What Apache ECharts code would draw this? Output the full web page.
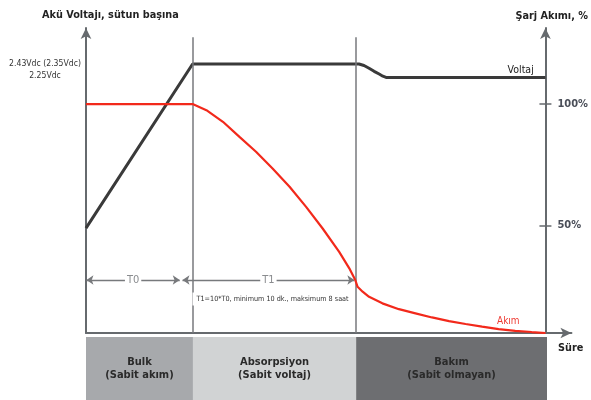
<!DOCTYPE html>
<html><head><meta charset="utf-8">
<script src="https://cdn.jsdelivr.net/npm/echarts@6/dist/echarts.min.js"></script>
<style>html,body{margin:0;padding:0;background:#fff}#c{width:591px;height:400px}</style>
</head><body><div id="c"></div>
<script>
// ---- data ----
const voltTime   = [0, 23.2, 58.6, 59.4, 60.5, 61.6, 62.7, 63.8, 64.6, 65.3, 100];
const voltValues = [34.4, 88.2, 88.2, 88.2, 87.7, 86.8, 85.8, 84.9, 84.2, 83.8, 83.8];
const currTime   = [0, 23.2, 26.2, 29.8, 33.4, 37.0, 40.6, 44.3, 47.9, 51.5, 55.1, 57.3, 58.6,
                    59.1, 60.2, 61.6, 64.5, 68.1, 71.7, 75.3, 79.0, 82.6, 86.2, 89.8, 93.4, 97.0, 100];
const currValues = [100, 100, 97.5, 92.7, 86.5, 80.4, 73.5, 66.0, 57.7, 48.8, 39.2, 32.4, 27.6,
                    24.8, 22.8, 20.7, 18.0, 15.6, 13.9, 12.2, 10.7, 9.5, 8.4, 7.4, 6.7, 6.2, 5.8];
const phaseNames  = ['Bulk\n(Sabit akım)', 'Absorpsiyon\n(Sabit voltaj)', 'Bakım\n(Sabit olmayan)'];
const phaseBounds = [0, 23.2, 58.6, 100];
const voltTickValues = [88.2, 84.3];
const voltTickLabels = ['2.43Vdc (2.35Vdc)', '2.25Vdc'];
const currTickValues = [50, 100];
const currTickLabels = ['50%', '100%'];
const t0Span = [0.1, 20.4];
const t1Span = [21.0, 58.4];
const spanLevel = 27.6;

// ---- style ----
const FONT = '"Liberation Sans Narrow","DejaVu Sans Condensed","Roboto Condensed",Roboto,sans-serif';
const AXIS = '#666a6e';
const bandColors = ['#a7a9ac', '#d1d3d4', '#6d6e71'];

const chart = echarts.init(document.getElementById('c'), null, {renderer: 'canvas'});
const voltData = voltTime.map((t, i) => [t, voltValues[i]]);
const currData = currTime.map((t, i) => [t, currValues[i]]);

const phaseAreas = phaseNames.map((n, i) => [
  {xAxis: phaseBounds[i], yAxis: 0, name: n, itemStyle: {color: bandColors[i], opacity: 1}},
  {xAxis: phaseBounds[i + 1], yAxis: 1}
]);

const labelPoint = (coord, text, style) => ({
  coord: coord, value: text, symbol: 'rect', symbolSize: 1,
  itemStyle: {color: 'rgba(0,0,0,0)'},
  label: Object.assign({show: true, position: 'inside', formatter: text, fontFamily: FONT}, style)
});

const titleStyle = {fontSize: 10.8, fontWeight: 'bold', color: '#222', fontFamily: FONT};

chart.setOption({
  animation: false,
  backgroundColor: '#fff',
  textStyle: {fontFamily: FONT},
  title: [
    {text: 'Akü Voltajı, sütun başına', left: 42, top: 10, padding: 0, textStyle: titleStyle},
    {text: 'Şarj Akımı, %', right: 3, top: 11, padding: 0, textStyle: titleStyle},
    {text: 'Süre', left: 558, top: 343, padding: 0, textStyle: titleStyle}
  ],
  grid: [
    {left: 86, right: 18, top: 28, bottom: 67},
    {left: 86, right: 44, top: 337, bottom: 0}
  ],
  xAxis: [
    {type: 'value', gridIndex: 0, min: 0, max: 105.64,
     axisLine: {show: true, symbol: ['none', 'arrow'], symbolSize: [8, 11], lineStyle: {color: AXIS, width: 2}},
     axisTick: {show: false}, axisLabel: {show: false}, splitLine: {show: false}},
    {type: 'value', gridIndex: 1, min: 0, max: 100, show: false}
  ],
  yAxis: [
    {type: 'value', gridIndex: 0, min: 0, max: 100, position: 'left',
     axisLine: {show: true, symbol: ['none', 'arrow'], symbolSize: [8, 11], lineStyle: {color: AXIS, width: 2}},
     axisTick: {show: false}, splitLine: {show: false},
     axisLabel: {show: true, customValues: voltTickValues, align: 'center', margin: 41,
       fontSize: 8.6, color: '#333', fontFamily: FONT,
       formatter: v => voltTickLabels[voltTickValues.indexOf(v)] || ''}},
    {type: 'value', gridIndex: 0, min: 5.8, max: 131.3, position: 'right', offset: -26,
     axisLine: {show: true, symbol: ['none', 'arrow'], symbolSize: [8, 11], lineStyle: {color: AXIS, width: 2}},
     axisTick: {show: true, customValues: currTickValues, length: 6, lineStyle: {color: AXIS, width: 1.5}},
     splitLine: {show: false},
     axisLabel: {show: true, customValues: currTickValues, margin: 12, fontSize: 11, fontWeight: 'bold',
       color: '#4a4e58', fontFamily: FONT,
       formatter: v => currTickLabels[currTickValues.indexOf(v)] || ''}},
    {type: 'value', gridIndex: 0, min: 5.8, max: 131.3, position: 'right', offset: -26,
     axisLine: {show: false},
     axisTick: {show: true, inside: true, customValues: currTickValues, length: 6, lineStyle: {color: AXIS, width: 1.5}},
     axisLabel: {show: false}, splitLine: {show: false}},
    {type: 'value', gridIndex: 1, min: 0, max: 1, show: false}
  ],
  series: [
    {type: 'line', name: 'Voltaj', xAxisIndex: 0, yAxisIndex: 0, data: voltData,
     showSymbol: false, silent: true, z: 4,
     lineStyle: {color: '#3a3a3a', width: 3},
     markLine: {silent: true, symbol: ['none', 'none'], label: {show: false},
       lineStyle: {color: '#77797c', width: 1.5, type: 'solid'},
       data: [phaseBounds[1], phaseBounds[2]].map(x => [{coord: [x, 97]}, {coord: [x, 0]}])},
     markPoint: {silent: true, data: [
       labelPoint([94.6, 86.2], 'Voltaj', {fontSize: 10.5, color: '#222'})
     ]}},
    {type: 'line', name: 'Akım', xAxisIndex: 0, yAxisIndex: 1, data: currData,
     showSymbol: false, silent: true, z: 5,
     lineStyle: {color: '#f2291b', width: 2.2},
     markLine: {silent: true, symbol: ['arrow', 'arrow'], symbolSize: 7, label: {show: false},
       lineStyle: {color: '#77797c', width: 1.3, type: 'solid'},
       data: [t0Span, t1Span].map(s => [{coord: [s[0], spanLevel]}, {coord: [s[1], spanLevel]}])},
     markPoint: {silent: true, data: [
       labelPoint([(t0Span[0] + t0Span[1]) / 2, spanLevel], 'T0',
         {fontSize: 11, color: '#8a8c8f', backgroundColor: '#fff', padding: [0, 2]}),
       labelPoint([(t1Span[0] + t1Span[1]) / 2, spanLevel], 'T1',
         {fontSize: 11, color: '#8a8c8f', backgroundColor: '#fff', padding: [0, 2]}),
       labelPoint([40.6, 19.8], 'T1=10*T0, minimum 10 dk., maksimum 8 saat',
         {fontSize: 7.2, color: '#333', backgroundColor: '#fff', padding: [3, 4]}),
       labelPoint([91.9, 10.5], 'Akım', {fontSize: 10, color: '#ee3b33'})
     ]}},
    {type: 'line', xAxisIndex: 1, yAxisIndex: 3, data: [], silent: true,
     markArea: {silent: true,
       label: {show: true, position: 'inside', fontSize: 11, fontWeight: 'bold', color: '#2a2a2a',
         lineHeight: 13, fontFamily: FONT},
       data: phaseAreas}}
  ]
});
</script></body></html>
